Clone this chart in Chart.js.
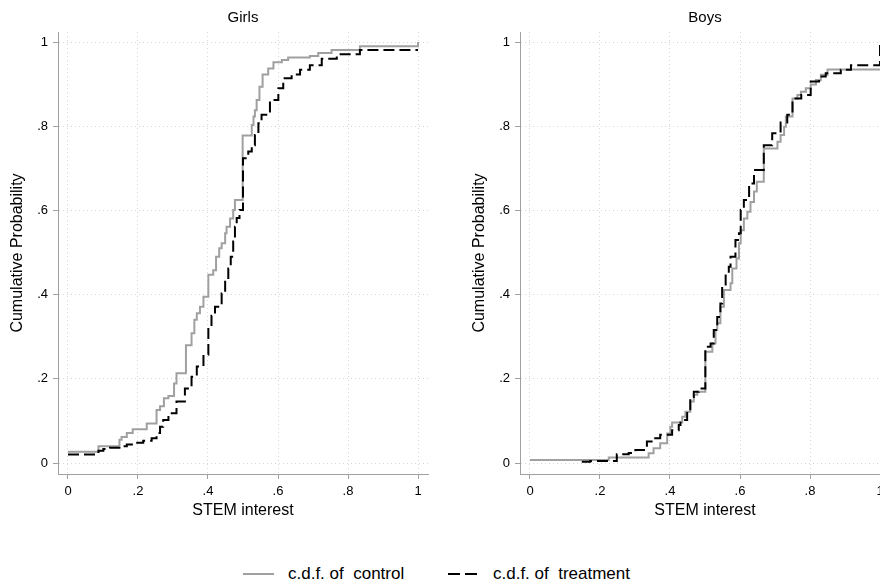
<!DOCTYPE html>
<html>
<head>
<meta charset="utf-8">
<script src="https://cdn.jsdelivr.net/npm/chart.js@4.4.0/dist/chart.umd.min.js"></script>
<style>
  html, body { margin: 0; padding: 0; width: 880px; height: 583px; overflow: hidden; background: #fff; }
  canvas { position: absolute; top: 0; }
  .leg { position: absolute; top: 563px; height: 22px; font-family: "Liberation Sans", Arial, sans-serif; font-size: 17px; line-height: 22px; color: #000; white-space: pre; }
  .leg svg { position: absolute; top: 0; }
</style>
</head>
<body>
<canvas id="girls" width="440" height="530" style="left:0px"></canvas>
<canvas id="boys" width="440" height="530" style="left:462px"></canvas>

<div class="leg" style="left:243px"><svg width="32" height="22"><line x1="0" y1="11" x2="31" y2="11" stroke="#a0a0a0" stroke-width="2"/></svg></div>
<div class="leg" style="left:288px">c.d.f. of  control</div>
<div class="leg" style="left:448px"><svg width="32" height="22"><line x1="0" y1="11" x2="30" y2="11" stroke="#000" stroke-width="2" stroke-dasharray="12,5"/></svg></div>
<div class="leg" style="left:493px">c.d.f. of  treatment</div>

<script>
// tick labels shared by both panels
const tickValues = [0, 0.2, 0.4, 0.6, 0.8, 1];

const girlsControlX = [0, 0.087, 0.147, 0.153, 0.168, 0.185, 0.225, 0.253, 0.263, 0.274, 0.287, 0.303, 0.31, 0.337, 0.353, 0.361, 0.368, 0.377, 0.387, 0.401, 0.415, 0.423, 0.432, 0.439, 0.449, 0.453, 0.463, 0.472, 0.477, 0.499, 0.525, 0.53, 0.534, 0.539, 0.547, 0.556, 0.572, 0.587, 0.611, 0.629, 0.691, 0.715, 0.753, 0.834, 1.0];
const girlsControlY = [0.027, 0.04, 0.055, 0.062, 0.071, 0.08, 0.094, 0.126, 0.135, 0.154, 0.159, 0.189, 0.213, 0.28, 0.308, 0.34, 0.356, 0.371, 0.395, 0.447, 0.458, 0.49, 0.51, 0.522, 0.546, 0.561, 0.581, 0.601, 0.625, 0.778, 0.803, 0.823, 0.838, 0.862, 0.894, 0.923, 0.937, 0.952, 0.957, 0.963, 0.967, 0.974, 0.981, 0.99, 1.0];
const girlsTreatX = [0, 0.087, 0.101, 0.12, 0.147, 0.168, 0.191, 0.215, 0.239, 0.253, 0.263, 0.272, 0.287, 0.31, 0.334, 0.353, 0.368, 0.387, 0.401, 0.41, 0.42, 0.439, 0.449, 0.458, 0.465, 0.472, 0.477, 0.482, 0.49, 0.5, 0.515, 0.525, 0.534, 0.544, 0.553, 0.577, 0.601, 0.615, 0.639, 0.663, 0.691, 0.725, 0.768, 0.834, 1.0];
const girlsTreatY = [0.02, 0.029, 0.033, 0.036, 0.04, 0.044, 0.048, 0.053, 0.059, 0.071, 0.086, 0.102, 0.118, 0.146, 0.177, 0.205, 0.229, 0.257, 0.324, 0.35, 0.371, 0.403, 0.435, 0.462, 0.49, 0.526, 0.561, 0.582, 0.601, 0.724, 0.74, 0.755, 0.779, 0.807, 0.827, 0.862, 0.89, 0.914, 0.923, 0.934, 0.945, 0.96, 0.971, 0.981, 0.981];

// Boys
const boysControlX = [0, 0.225, 0.339, 0.353, 0.372, 0.392, 0.401, 0.406, 0.435, 0.444, 0.458, 0.468, 0.478, 0.501, 0.521, 0.53, 0.535, 0.544, 0.554, 0.573, 0.578, 0.59, 0.597, 0.602, 0.611, 0.621, 0.63, 0.64, 0.648, 0.668, 0.707, 0.716, 0.726, 0.731, 0.75, 0.764, 0.774, 0.788, 0.802, 0.817, 0.831, 0.85, 1.0];
const boysControlY = [0.007, 0.013, 0.023, 0.035, 0.047, 0.07, 0.086, 0.096, 0.11, 0.122, 0.146, 0.162, 0.169, 0.264, 0.284, 0.316, 0.332, 0.371, 0.411, 0.427, 0.462, 0.486, 0.522, 0.553, 0.581, 0.597, 0.62, 0.645, 0.668, 0.747, 0.763, 0.779, 0.799, 0.823, 0.866, 0.874, 0.882, 0.89, 0.899, 0.91, 0.922, 0.935, 0.935];
const boysTreatX = [0.148, 0.172, 0.248, 0.282, 0.301, 0.334, 0.353, 0.372, 0.406, 0.425, 0.43, 0.449, 0.458, 0.468, 0.482, 0.501, 0.516, 0.525, 0.535, 0.544, 0.549, 0.559, 0.568, 0.573, 0.587, 0.597, 0.602, 0.611, 0.626, 0.64, 0.668, 0.692, 0.716, 0.735, 0.75, 0.775, 0.802, 0.826, 0.845, 0.888, 0.917, 1.0];
const boysTreatY = [0.003, 0.005, 0.021, 0.024, 0.031, 0.051, 0.059, 0.067, 0.078, 0.09, 0.102, 0.122, 0.157, 0.169, 0.177, 0.276, 0.284, 0.316, 0.347, 0.379, 0.419, 0.451, 0.466, 0.49, 0.53, 0.546, 0.601, 0.625, 0.664, 0.696, 0.755, 0.783, 0.809, 0.827, 0.866, 0.874, 0.906, 0.918, 0.926, 0.934, 0.945, 1.0];

const FONT = "'Liberation Sans', Arial, sans-serif";

function toPoints(xs, ys) {
  return xs.map((x, i) => ({x: x, y: ys[i]}));
}

function fmtTick(v) {
  if (v === 0) return '0';
  if (v === 1) return '1';
  return String(v).replace('0.', '.');
}

function setTicks(scale) {
  scale.ticks = tickValues.map(v => ({value: v}));
}

function draw_panel(element_id, title, cx, cy, tx, ty) {
  const ctx = document.getElementById(element_id);
  new Chart(ctx, {
    type: 'line',
    data: {
      datasets: [
        {
          label: 'c.d.f. of  control',
          data: toPoints(cx, cy),
          borderColor: '#a0a0a0',
          borderWidth: 2,
          stepped: 'before',   // horizontal to next x, then jump
          pointRadius: 0,
          fill: false,
          order: 2
        },
        {
          label: 'c.d.f. of  treatment',
          data: toPoints(tx, ty),
          borderColor: '#000000',
          borderWidth: 2,
          borderDash: [11, 5],
          stepped: 'before',
          pointRadius: 0,
          fill: false,
          order: 1
        }
      ]
    },
    options: {
      responsive: false,
      animation: false,
      layout: {padding: {left: 0, right: 12, top: 0, bottom: 0}},
      plugins: {
        legend: {display: false},
        tooltip: {enabled: false},
        title: {
          display: true,
          text: title,
          fullSize: false,
          color: '#000',
          font: {family: FONT, size: 15, weight: 'normal'},
          padding: {top: 9, bottom: 5}
        }
      },
      scales: {
        x: {
          type: 'linear',
          min: -0.02857,
          max: 1.02857,
          afterBuildTicks: setTicks,
          afterFit: s => { s.height = 56; },
          ticks: {callback: fmtTick, color: '#000', padding: 5, maxRotation: 0, autoSkip: false,
                  font: {family: FONT, size: 13}},
          grid: {color: '#d6d6d6', tickColor: '#a0a0a0', tickLength: 5, lineWidth: 1},
          border: {color: '#a0a0a0', width: 1, dash: [1, 3]},
          title: {display: true, text: 'STEM interest', color: '#000',
                  font: {family: FONT, size: 16}, padding: {top: 0, bottom: 9.4}}
        },
        y: {
          type: 'linear',
          min: -0.0261,
          max: 1.0238,
          afterBuildTicks: setTicks,
          afterFit: s => { s.width = 58; },
          ticks: {callback: fmtTick, color: '#000', padding: 5,
                  font: {family: FONT, size: 13}},
          grid: {color: '#d6d6d6', tickColor: '#a0a0a0', tickLength: 5, lineWidth: 1},
          border: {color: '#a0a0a0', width: 1, dash: [1, 3]},
          title: {display: true, text: 'Cumulative Probability', color: '#000',
                  font: {family: FONT, size: 16}, padding: {top: 8.4, bottom: 0}}
        }
      }
    }
  });
}

draw_panel('girls', 'Girls', girlsControlX, girlsControlY, girlsTreatX, girlsTreatY);
draw_panel('boys', 'Boys', boysControlX, boysControlY, boysTreatX, boysTreatY);
</script>
</body>
</html>
